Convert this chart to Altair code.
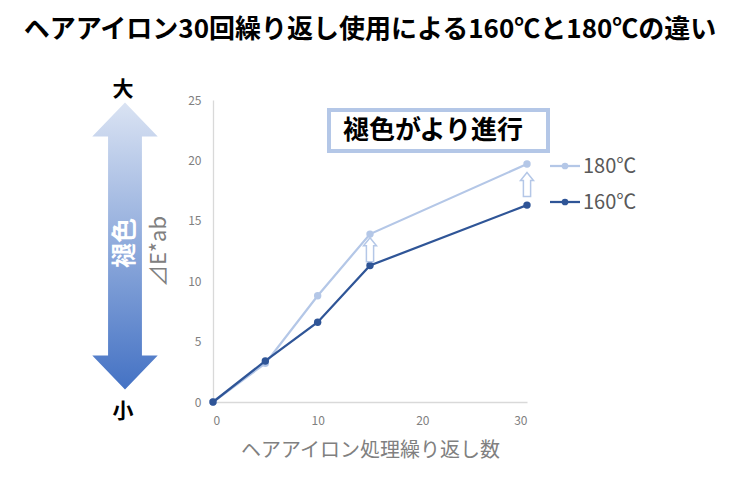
import altair as alt
import pandas as pd

# ---- data ----
cycles = [0, 5, 10, 15, 30]
delta_180 = [0, 3.2, 8.8, 13.9, 19.7]
delta_160 = [0, 3.4, 6.6, 11.3, 16.3]
series = ["180℃", "160℃"]
colors = ["#b4c7e7", "#2f5597"]
x_ticks = [0, 10, 20, 30]
y_ticks = [0, 5, 10, 15, 20, 25]
arrow_at = [15, 30]

title_text = "ヘアアイロン30回繰り返し使用による160℃と180℃の違い"
x_title = "ヘアアイロン処理繰り返し数"
y_title = "⊿E*ab"
note_text = "褪色がより進行"
scale_label = "褪色"
scale_top = "大"
scale_bottom = "小"

FONT = "Noto Sans CJK JP"
W, H = 314, 302

rows = []
for name, vals in zip(series, [delta_180, delta_160]):
    for c, v in zip(cycles, vals):
        rows.append({"cycle": c, "delta": v, "series": name})
df = pd.DataFrame(rows)

lookup = {name: dict(zip(cycles, vals)) for name, vals in zip(series, [delta_180, delta_160])}
arrow_df = pd.DataFrame({
    "cycle": arrow_at,
    "delta": [(lookup["180℃"][c] + lookup["160℃"][c]) / 2 for c in arrow_at],
})

xs = alt.Scale(domain=[0, 30], nice=False, zero=False)
ys = alt.Scale(domain=[0, 25], nice=False)

x_axis = alt.Axis(values=x_ticks, grid=False, ticks=False, domainColor="#d9d9d9",
                  domainWidth=1.3, labelColor="#808080", labelFontSize=12, labelFont=FONT,
                  labelPadding=13, title=x_title, titleFont=FONT, titleFontSize=20,
                  titleFontWeight="normal", titleColor="#808080", titlePadding=14)
y_axis = alt.Axis(values=y_ticks, grid=False, ticks=False, domainColor="#d9d9d9",
                  domainWidth=1.3, labelColor="#808080", labelFontSize=12, labelFont=FONT,
                  labelPadding=12, title=y_title, titleFont=FONT, titleFontSize=22,
                  titleFontWeight="normal", titleColor="#808080", titlePadding=17)

layers = []
for name, col in zip(series, colors):
    sub = df[df.series == name]
    base = alt.Chart(sub).encode(
        x=alt.X("cycle:Q", scale=xs, axis=x_axis),
        y=alt.Y("delta:Q", scale=ys, axis=y_axis),
    )
    layers.append(base.mark_line(color=col, strokeWidth=2.25))
    layers.append(base.mark_point(color=col, filled=True, opacity=1, size=55))

# hollow up-arrows between the series
hollow = "M0,-1L0.54,-0.33L0.3,-0.33L0.3,1L-0.3,1L-0.3,-0.33L-0.54,-0.33Z"
layers.append(
    alt.Chart(arrow_df).mark_point(shape=hollow, size=576, filled=True, fill="white",
                                   stroke="#b4c7e7", strokeWidth=1.5, opacity=1)
    .encode(x=alt.X("cycle:Q", scale=xs), y=alt.Y("delta:Q", scale=ys))
)

one = pd.DataFrame({"k": [0]})

# annotation box
layers.append(
    alt.Chart(one).mark_rect(fill="white", stroke="#b4c7e7", strokeWidth=4)
    .encode(x=alt.value(116), x2=alt.value(335), y=alt.value(10), y2=alt.value(51))
)
layers.append(
    alt.Chart(one).mark_text(text=note_text, font=FONT, fontSize=26, fontWeight="bold",
                             color="black", align="center", baseline="middle")
    .encode(x=alt.value(220), y=alt.value(31))
)

# manual legend
for i, (name, col) in enumerate(zip(series, colors)):
    yy = 66 + i * 36
    layers.append(alt.Chart(one).mark_rule(color=col, strokeWidth=2.25)
                  .encode(x=alt.value(337), x2=alt.value(367), y=alt.value(yy)))
    layers.append(alt.Chart(one).mark_point(color=col, filled=True, opacity=1, size=45)
                  .encode(x=alt.value(352), y=alt.value(yy)))
    layers.append(alt.Chart(one).mark_text(text=name, font=FONT, fontSize=20, color="#595959",
                                           align="left", baseline="middle")
                  .encode(x=alt.value(370), y=alt.value(yy + 1)))

# gradient double arrow on the left
big_arrow = ("M0,-1L0.228,-0.763L0.118,-0.763L0.118,0.763L0.228,0.763L0,1"
             "L-0.228,0.763L-0.118,0.763L-0.118,-0.763L-0.228,-0.763Z")
grad = alt.Gradient(gradient="linear", x1=0, x2=0, y1=0, y2=1,
                    stops=[alt.GradientStop(color="#dae3f3", offset=0),
                           alt.GradientStop(color="#4472c4", offset=1)])
layers.append(
    alt.Chart(one).mark_point(shape=big_arrow, size=287 * 287, filled=True, fill=grad,
                              opacity=1, strokeWidth=0)
    .encode(x=alt.value(-88), y=alt.value(146))
)
layers.append(
    alt.Chart(one).mark_text(text=scale_label, font=FONT, fontSize=25, fontWeight="bold",
                             color="white", angle=270, align="center", baseline="middle")
    .encode(x=alt.value(-88), y=alt.value(143))
)
layers.append(
    alt.Chart(one).mark_text(text=scale_top, font=FONT, fontSize=21, fontWeight="bold",
                             color="black", align="center", baseline="middle")
    .encode(x=alt.value(-90), y=alt.value(-10))
)
layers.append(
    alt.Chart(one).mark_text(text=scale_bottom, font=FONT, fontSize=21, fontWeight="bold",
                             color="black", align="center", baseline="middle")
    .encode(x=alt.value(-90), y=alt.value(312))
)

chart = alt.layer(*layers).properties(
    width=W, height=H,
    title=alt.TitleParams(title_text, font=FONT, fontSize=26, fontWeight="bold",
                          color="black", anchor="middle", frame="group", offset=36),
    autosize=alt.AutoSizeParams(type="none"),
    padding={"left": 205, "top": 92, "right": 205, "bottom": 60},
).configure(font=FONT).configure_view(stroke=None)

chart.save("out.html", embed_options={"renderer": "svg", "actions": False})
